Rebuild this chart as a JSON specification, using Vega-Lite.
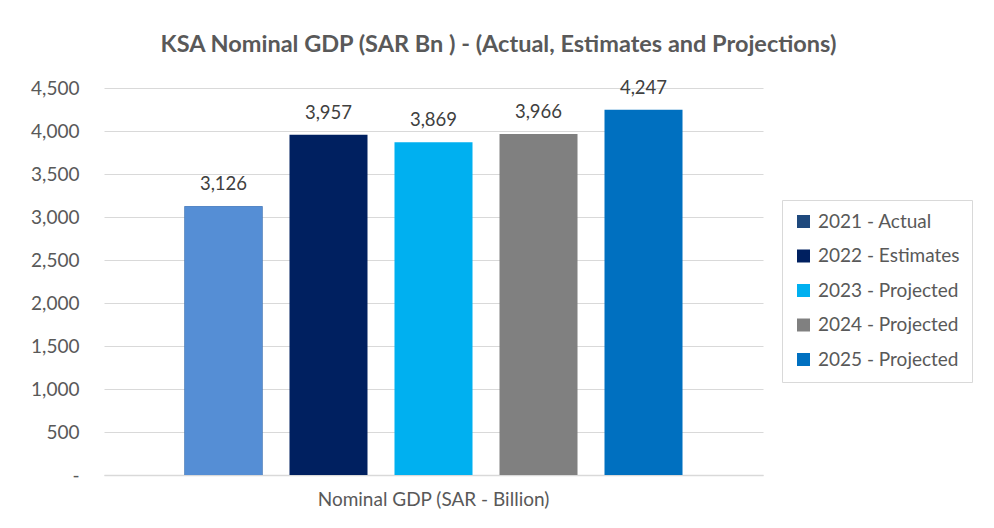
{
  "$schema": "https://vega.github.io/schema/vega-lite/v6.json",
  "autosize": {"type": "none"},
  "width": 659,
  "height": 387,
  "padding": {"left": 104, "top": 88, "right": 231, "bottom": 53},
  "background": "white",
  "title": {
    "text": "KSA Nominal GDP (SAR Bn ) - (Actual, Estimates and Projections)",
    "anchor": "middle",
    "frame": "group",
    "dx": 65,
    "offset": 22,
    "font": "Lato",
    "fontSize": 23.5,
    "fontWeight": "bold",
    "color": "#595959"
  },
  "data": {
    "values": [
      {"category": "Nominal GDP (SAR - Billion)", "series": "2021 - Actual", "value": 3126},
      {"category": "Nominal GDP (SAR - Billion)", "series": "2022 - Estimates", "value": 3957},
      {"category": "Nominal GDP (SAR - Billion)", "series": "2023 - Projected", "value": 3869},
      {"category": "Nominal GDP (SAR - Billion)", "series": "2024 - Projected", "value": 3966},
      {"category": "Nominal GDP (SAR - Billion)", "series": "2025 - Projected", "value": 4247}
    ]
  },
  "encoding": {
    "x": {
      "field": "category",
      "type": "nominal",
      "scale": {"paddingInner": 0, "paddingOuter": 0.1276},
      "axis": {
        "title": null,
        "labelAngle": 0,
        "labelLimit": 0,
        "labelFont": "Lato",
        "labelFontSize": 19,
        "labelColor": "#595959",
        "labelPadding": 15,
        "ticks": false,
        "domain": true,
        "domainColor": "#D9D9D9",
        "domainWidth": 1.5
      }
    },
    "xOffset": {
      "field": "series",
      "type": "nominal",
      "scale": {"paddingInner": 0.257, "paddingOuter": 0.1285}
    },
    "y": {
      "field": "value",
      "type": "quantitative",
      "scale": {"domain": [0, 4500]},
      "axis": {
        "title": null,
        "values": [0, 500, 1000, 1500, 2000, 2500, 3000, 3500, 4000, 4500],
        "labelExpr": "datum.value == 0 ? '-' : format(datum.value, ',')",
        "labelFont": "Lato",
        "labelFontSize": 19,
        "labelColor": "#595959",
        "labelPadding": 25,
        "ticks": false,
        "domain": false,
        "grid": true,
        "gridColor": "#D9D9D9",
        "gridWidth": 1.2
      }
    }
  },
  "layer": [
    {
      "mark": {"type": "bar"},
      "encoding": {
        "color": {
          "field": "series",
          "type": "nominal",
          "scale": {
            "domain": ["2021 - Actual", "2022 - Estimates", "2023 - Projected", "2024 - Projected", "2025 - Projected"],
            "range": ["#1F497D", "#002060", "#00B0F0", "#808080", "#0070C0"]
          },
          "legend": {
            "title": null,
            "orient": "none",
            "legendX": 678,
            "legendY": 112,
            "symbolType": "square",
            "symbolSize": 169,
            "symbolStrokeWidth": 0,
            "labelFont": "Lato",
            "labelFontSize": 19,
            "labelColor": "#595959",
            "labelOffset": 5,
            "rowPadding": 14.5,
            "padding": 12,
            "strokeColor": "#D9D9D9",
            "fillColor": "white"
          }
        }
      }
    },
    {
      "transform": [{"filter": "datum.series == '2021 - Actual'"}],
      "mark": {"type": "bar", "color": "#558ED5"}
    },
    {
      "mark": {"type": "text", "dy": -12, "baseline": "bottom", "font": "Lato", "fontSize": 18.5, "color": "#404040"},
      "encoding": {
        "text": {"field": "value", "type": "quantitative", "format": ","}
      }
    }
  ],
  "config": {
    "view": {"stroke": null}
  }
}
